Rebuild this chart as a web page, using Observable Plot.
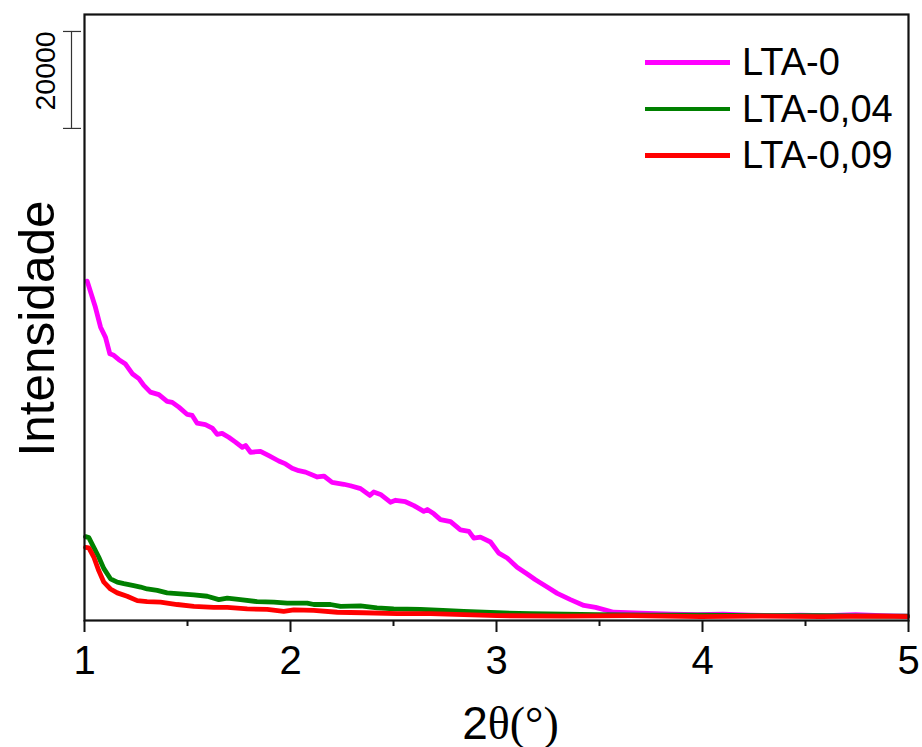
<!DOCTYPE html>
<html><head><meta charset="utf-8">
<script src="https://cdn.jsdelivr.net/npm/d3@7"></script>
<script src="https://cdn.jsdelivr.net/npm/@observablehq/plot@0.6"></script>
<style>
body{margin:0;background:#fff;}
#wrap{position:relative;width:922px;height:747px;font-family:"Liberation Sans",Arial,sans-serif;}
#legend{position:absolute;left:645px;top:39px;}
.row{display:flex;align-items:center;height:46.5px;}
.sw{width:85px;height:4.5px;}
.lb{font-size:38px;line-height:1;margin-left:12px;color:#000;white-space:nowrap;}
</style></head><body><div id="wrap"><div id="legend"></div></div>
<script>
const seriesNames = ["LTA-0", "LTA-0,04", "LTA-0,09"];
const seriesColors = ["#ff00ff", "#008000", "#ff0000"];

const lta0X = [1.013,1.053,1.078,1.102,1.123,1.142,1.167,1.199,1.232,1.264,1.288,1.320,1.361,1.401,1.426,1.458,1.499,1.523,1.547,1.587,1.620,1.644,1.668,1.700,1.733,1.766,1.782,1.806,1.854,1.895,1.943,1.976,2.008,2.040,2.073,2.130,2.162,2.202,2.259,2.291,2.340,2.385,2.404,2.437,2.485,2.510,2.558,2.599,2.647,2.664,2.696,2.728,2.777,2.825,2.866,2.890,2.922,2.971,3.011,3.052,3.100,3.149,3.189,3.246,3.295,3.359,3.424,3.481,3.569,3.699,3.850,3.976,4.100,4.233,4.350,4.476,4.600,4.743,4.870,4.995];
const lta0Y = [70000,64600,60500,58400,55000,54700,53800,52900,50900,49900,48500,47100,46600,45200,45000,44000,42500,42300,40700,40400,39700,38400,38600,37800,36800,35700,36100,34700,34900,34000,32900,32300,31400,30900,30600,29600,29800,28500,28100,27800,27200,25800,26500,26000,24400,24800,24500,23700,22500,22900,22000,20800,20400,18700,18400,17000,17200,16200,13900,12900,11000,9600,8400,6900,5600,4300,3100,2700,1700,1500,1300,1200,1300,1100,1000,1100,1000,1200,1000,900];

const lta004X = [1.005,1.021,1.045,1.069,1.094,1.126,1.159,1.191,1.239,1.272,1.304,1.353,1.401,1.466,1.531,1.596,1.652,1.693,1.757,1.838,1.919,1.984,2.081,2.113,2.194,2.243,2.340,2.420,2.501,2.631,2.740,2.841,3.003,3.165,3.330,3.489,3.748,3.990,4.282,4.573,4.864,4.995];
const lta004Y = [17300,17100,15100,13100,10700,8600,7900,7600,7200,6900,6500,6200,5700,5500,5300,5000,4300,4600,4300,3900,3800,3600,3600,3300,3300,2900,3000,2600,2400,2300,2100,1900,1600,1400,1300,1200,1100,1100,1000,1000,900,900];

const lta009X = [1.005,1.021,1.045,1.069,1.094,1.126,1.159,1.207,1.256,1.304,1.369,1.450,1.531,1.628,1.693,1.790,1.887,1.967,2.016,2.113,2.227,2.356,2.518,2.680,2.840,3.003,3.327,3.650,3.990,4.282,4.573,4.864,4.995];
const lta009Y = [15100,15000,13100,10300,7900,6500,5700,5000,4100,3900,3800,3300,2900,2700,2700,2400,2300,1900,2200,2100,1700,1600,1400,1400,1200,1000,900,1000,800,900,800,900,800];

const xTicks = [1, 2, 3, 4, 5];
const xMinorTicks = [1.5, 2.5, 3.5, 4.5];
const xDomain = [1, 5];
const yDomain = [0, 125000];
const scaleBar = [101500, 121500];
const scaleBarLabel = "20000";
const xLabel = "2θ(°)";
const yLabel = "Intensidade";

const xs = [lta0X, lta004X, lta009X];
const ys = [lta0Y, lta004Y, lta009Y];
const rows = [];
seriesNames.forEach((name, k) => {
  xs[k].forEach((x, i) => rows.push({series: name, x, y: ys[k][i]}));
});

const plot = Plot.plot({
  width: 922,
  height: 747,
  marginLeft: 84,
  marginRight: 14,
  marginTop: 14,
  marginBottom: 127,
  style: {fontFamily: "Liberation Sans, Arial, sans-serif", color: "#000", background: "#fff", overflow: "visible"},
  x: {domain: xDomain, axis: null},
  y: {domain: yDomain, axis: null},
  color: {domain: seriesNames, range: seriesColors},
  marks: [
    Plot.line(rows, {x: "x", y: "y", z: "series", stroke: "series", strokeWidth: 4.8, strokeLinejoin: "round", strokeLinecap: "round"}),
    Plot.frame({stroke: "#111", strokeWidth: 2.2}),
    Plot.axisX({ticks: xTicks, tickSize: 12, tickPadding: 13, fontSize: 40, tickFormat: d => String(d), label: null, strokeWidth: 2, stroke: "#111"}),
    Plot.axisX({ticks: xMinorTicks, tickSize: 6, tickFormat: () => "", label: null, strokeWidth: 2, stroke: "#111"}),
    Plot.ruleX([1], {y1: scaleBar[0], y2: scaleBar[1], dx: -13, stroke: "#333", strokeWidth: 1.2}),
    Plot.ruleY(scaleBar, {y: d => d, x1: 1, x2: 1, insetLeft: -21, insetRight: 3, stroke: "#333", strokeWidth: 1.2}),
    Plot.text([scaleBarLabel], {x: 1, y: (scaleBar[0] + scaleBar[1]) / 2, text: d => d, rotate: -90, textAnchor: "middle", dx: -39, dy: -9, fontSize: 28.5, fill: "#000"}),
    Plot.text([yLabel], {frameAnchor: "left", text: d => d, rotate: -90, textAnchor: "middle", dx: -31, dy: 11, lineAnchor: "bottom", fontSize: 49.5, fill: "#000"}),
    Plot.text([xLabel], {frameAnchor: "bottom", text: d => d, textAnchor: "middle", dx: 14, dy: 118, lineAnchor: "bottom", fontSize: 46, fill: "#000"})
  ]
});

// split x label into mixed fonts (digit sans, theta/paren serif)
d3.select(plot).selectAll("text").filter(function() { return this.textContent === xLabel; }).each(function() {
  const t = d3.select(this);
  t.text(null);
  t.append("tspan").text("2");
  t.append("tspan").style("font-family", "'Liberation Serif', 'Times New Roman', serif").text("θ(°)");
});

const wrap = document.getElementById("wrap");
wrap.insertBefore(plot, wrap.firstChild);

const legend = d3.select("#legend");
seriesNames.forEach((name, k) => {
  const row = legend.append("div").attr("class", "row");
  row.append("div").attr("class", "sw").style("background", seriesColors[k]);
  row.append("div").attr("class", "lb").text(name);
});
</script>
</body></html>
